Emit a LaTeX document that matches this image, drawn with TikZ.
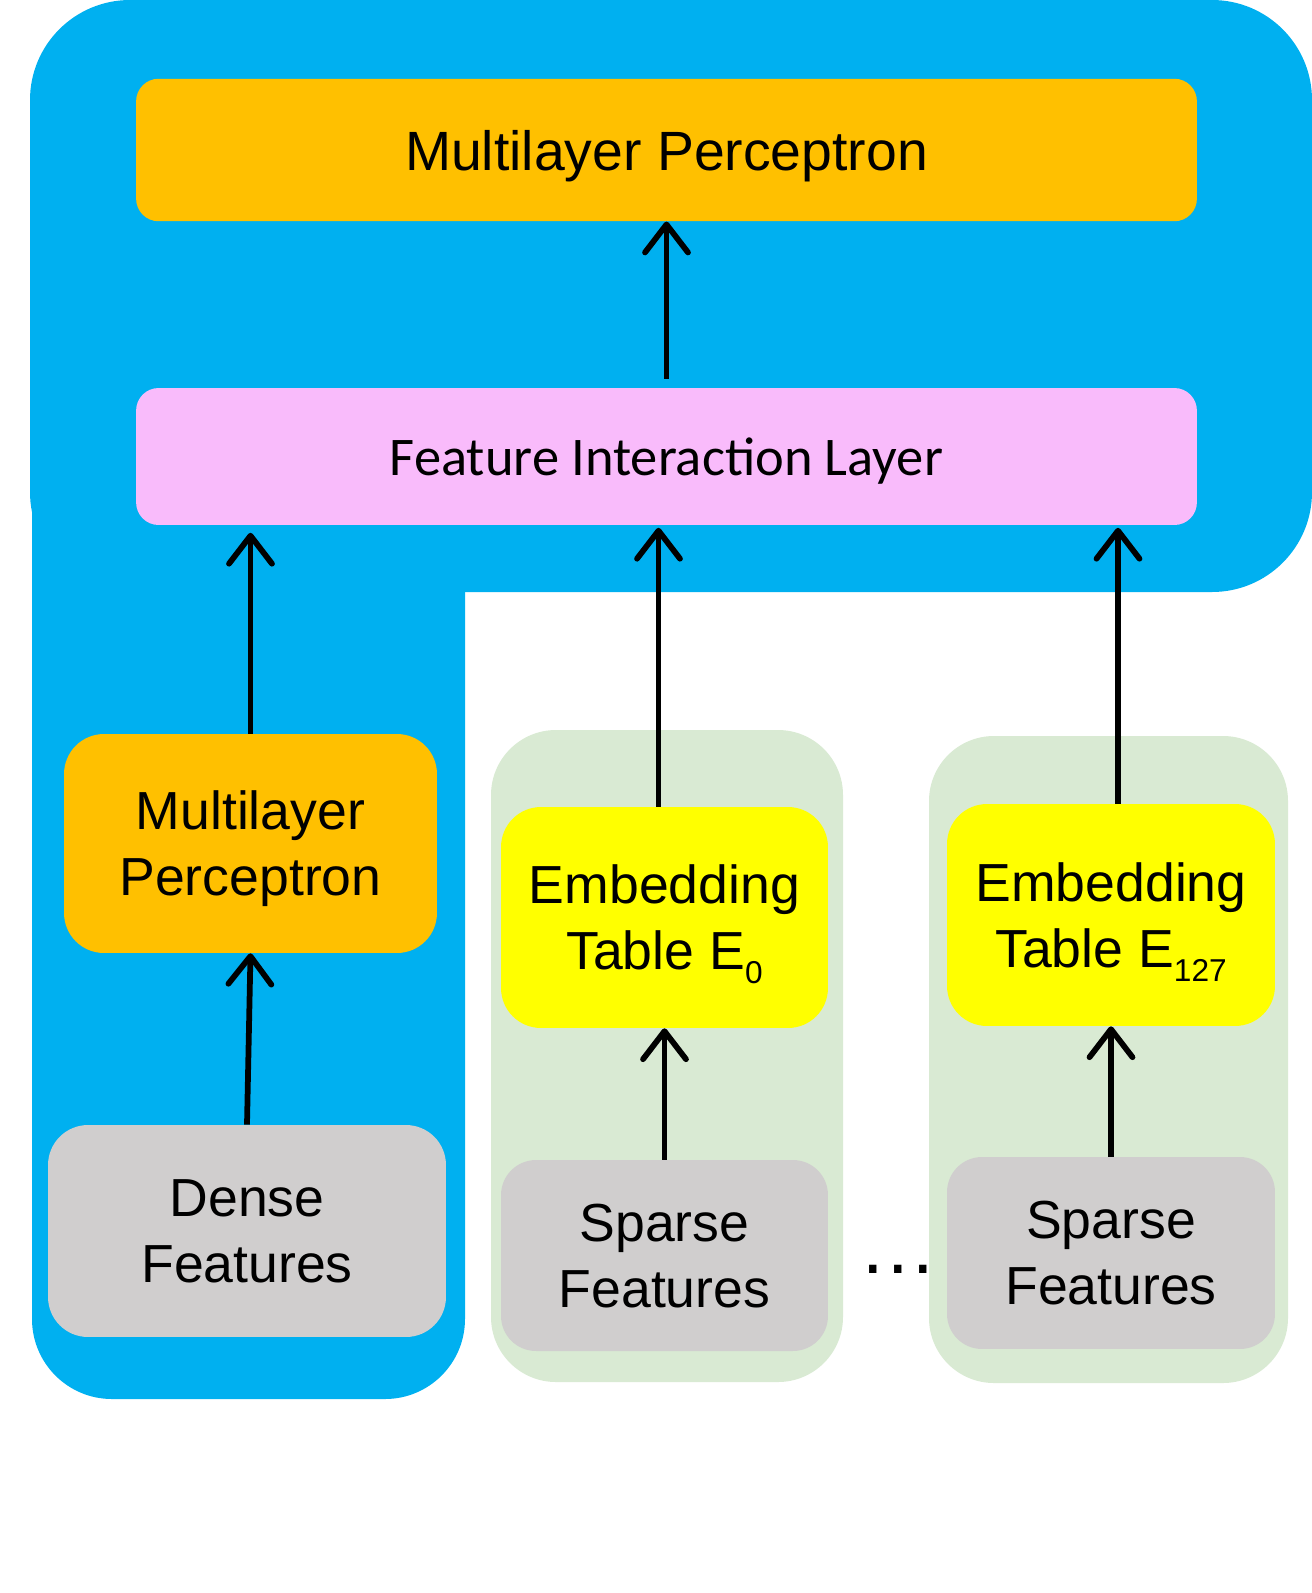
\documentclass[tikz,border=0pt]{standalone}
\usepackage{fontspec}
\setmainfont{Liberation Sans}
\newfontfamily\carlito{Carlito}
\usepackage{xcolor}
\usetikzlibrary{arrows.meta}

\definecolor{outerblue}{HTML}{00B0F0}
\definecolor{mlporange}{HTML}{FFC000}
\definecolor{filpink}{HTML}{F9BBFB}
\definecolor{tablegreen}{HTML}{D9EAD3}
\definecolor{featgray}{HTML}{D0CECE}
\definecolor{embyellow}{HTML}{FFFF00}

\newcommand{\subidx}[1]{\raisebox{-7.8pt}{\fontsize{18}{18}\selectfont #1}}

\tikzset{
  box/.style={inner sep=0pt, align=center, text depth=0pt, font=\fontsize{30.5}{37.5}\selectfont},
  flow/.style={-{Straight Barb[length=0.56cm,width=0.86cm,round]}, line width=0.115cm},
}

\begin{document}
\begin{tikzpicture}[x=0.02cm,y=-0.02cm]
\useasboundingbox (0,0) rectangle (1312,1593);

\fill[outerblue, rounded corners=2cm] (30,0) rectangle (1312,592);
\fill[outerblue, rounded corners=1.6cm] (32,300) rectangle (465,1399);
\fill[tablegreen, rounded corners=1.3cm] (491,730) rectangle (843,1382);
\fill[tablegreen, rounded corners=1.3cm] (929,736) rectangle (1288,1383);

\node[box, fill=mlporange, rounded corners=0.45cm, minimum width=21.22cm, minimum height=2.85cm, font=\fontsize{31.5}{37.5}\selectfont] (mlptop) at (666.5,150) {Multilayer Perceptron};
\node[box, fill=filpink, rounded corners=0.45cm, minimum width=21.22cm, minimum height=2.74cm, font=\carlito\fontsize{31}{37}\selectfont] (fil) at (666.5,456.5) {Feature Interaction Layer};

\node[box, fill=mlporange, rounded corners=0.8cm, minimum width=7.46cm, minimum height=4.38cm] (mlpleft) at (250.5,843.5) {Multilayer\\Perceptron};
\node[box, fill=featgray, rounded corners=0.8cm, minimum width=7.96cm, minimum height=4.24cm] (dense) at (247,1231) {Dense\\Features};

\node[box, fill=embyellow, rounded corners=0.8cm, minimum width=6.54cm, minimum height=4.42cm] (emb0) at (664.5,917.5) {Embedding\\Table E\subidx{0}};
\node[box, fill=featgray, rounded corners=0.7cm, minimum width=6.54cm, minimum height=3.82cm] (sparse0) at (664.5,1255.5) {Sparse\\Features};

\node[box, fill=embyellow, rounded corners=0.8cm, minimum width=6.56cm, minimum height=4.44cm] (emb127) at (1111,915) {Embedding\\Table E\subidx{127}};
\node[box, fill=featgray, rounded corners=0.7cm, minimum width=6.56cm, minimum height=3.84cm] (sparse127) at (1111,1253) {Sparse\\Features};

\node[font=\fontsize{44}{44}\selectfont, inner sep=0pt] (dots) at (898,1269) {.\kern2pt.\kern2pt.};

\draw[flow] ([yshift=0.18cm]fil.north) -- (mlptop.south);
\draw[flow] (mlpleft.north) -- ([yshift=-0.15cm]mlpleft.north |- fil.south);
\draw[flow] (dense.north) -- (mlpleft.south);
\draw[flow] ([xshift=-0.12cm]emb0.north) -- ([xshift=-0.12cm,yshift=-0.05cm]emb0.north |- fil.south);
\draw[flow] (sparse0.north) -- (emb0.south);
\draw[flow] ([xshift=0.14cm]emb127.north) -- ([xshift=0.14cm,yshift=-0.05cm]emb127.north |- fil.south);
\draw[flow] (sparse127.north) -- (emb127.south);
\end{tikzpicture}
\end{document}
